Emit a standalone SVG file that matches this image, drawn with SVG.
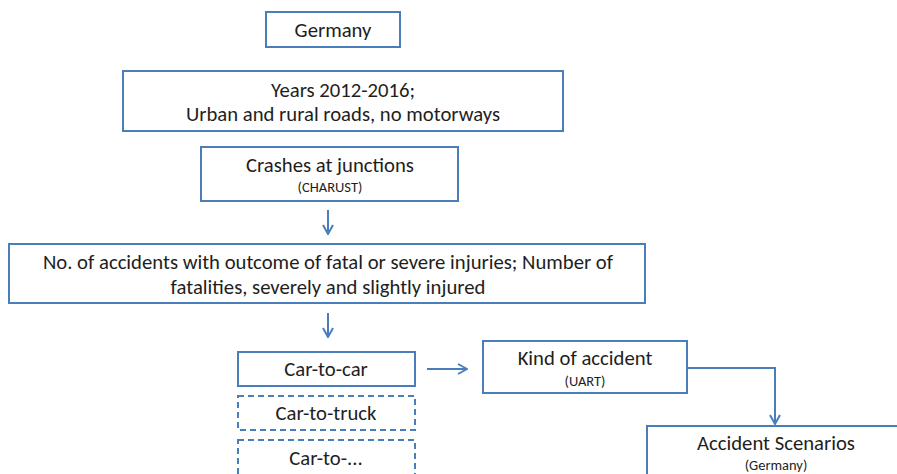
<svg xmlns="http://www.w3.org/2000/svg" width="897" height="474" viewBox="0 0 897 474">
<defs>
<style>
.box{fill:#fff;stroke:#4A7EBB;stroke-width:2}
.dash{stroke-dasharray:6 4}
.t{font-family:Carlito,Calibri,Lato,"Liberation Sans",sans-serif;font-size:20.7px;fill:#1e1e1e;text-anchor:middle}
.s{font-family:Carlito,Calibri,Lato,"Liberation Sans",sans-serif;font-size:14.5px;fill:#1e1e1e;text-anchor:middle}
.c{fill:none;stroke:#4A7EBB;stroke-width:2}
</style>
<marker id="ah" viewBox="0 0 12 12" refX="11" refY="6" markerWidth="12" markerHeight="12" markerUnits="userSpaceOnUse" orient="auto">
<path d="M2,1 L11,6 L2,11" fill="none" stroke="#4A7EBB" stroke-width="2"/>
</marker>
</defs>
<rect width="897" height="474" fill="#fff"/>
<g id="connectors">
<line class="c" x1="328" y1="210" x2="328" y2="234" marker-end="url(#ah)"/>
<line class="c" x1="328" y1="313" x2="328" y2="337" marker-end="url(#ah)"/>
<line class="c" x1="427" y1="369" x2="467" y2="369" marker-end="url(#ah)"/>
<polyline class="c" points="687,368 775,368 775,424" marker-end="url(#ah)"/>
</g>
<g id="germany">
<rect class="box" x="266" y="12" width="134" height="35"/>
<text class="t" x="333" y="37">Germany</text>
</g>
<g id="years">
<rect class="box" x="123" y="71" width="440" height="60"/>
<text class="t" x="343" y="97">Years 2012-2016;</text>
<text class="t" x="343" y="121">Urban and rural roads, no motorways</text>
</g>
<g id="crashes">
<rect class="box" x="201" y="147" width="257" height="54"/>
<text class="t" x="330" y="172">Crashes at junctions</text>
<text class="s" x="330" y="192">(CHARUST)</text>
</g>
<g id="numbers">
<rect class="box" x="9" y="244" width="636" height="59"/>
<text class="t" x="328" y="269">No. of accidents with outcome of fatal or severe injuries; Number of</text>
<text class="t" x="328" y="294">fatalities, severely and slightly injured</text>
</g>
<g id="car-to-car">
<rect class="box" x="238" y="352" width="177" height="34"/>
<text class="t" x="326" y="376">Car-to-car</text>
</g>
<g id="car-to-truck">
<rect class="box dash" x="238" y="396" width="177" height="34"/>
<text class="t" x="326" y="420">Car-to-truck</text>
</g>
<g id="car-to-other">
<rect class="box dash" x="238" y="440" width="177" height="40"/>
<text class="t" x="326" y="465">Car-to-...</text>
</g>
<g id="kind">
<rect class="box" x="483" y="341" width="204" height="52"/>
<text class="t" x="585" y="365">Kind of accident</text>
<text class="s" x="585" y="386">(UART)</text>
</g>
<g id="scenarios">
<rect class="box" x="647" y="426" width="260" height="60"/>
<text class="t" x="776" y="450">Accident Scenarios</text>
<text class="s" x="776" y="470">(Germany)</text>
</g>
</svg>
